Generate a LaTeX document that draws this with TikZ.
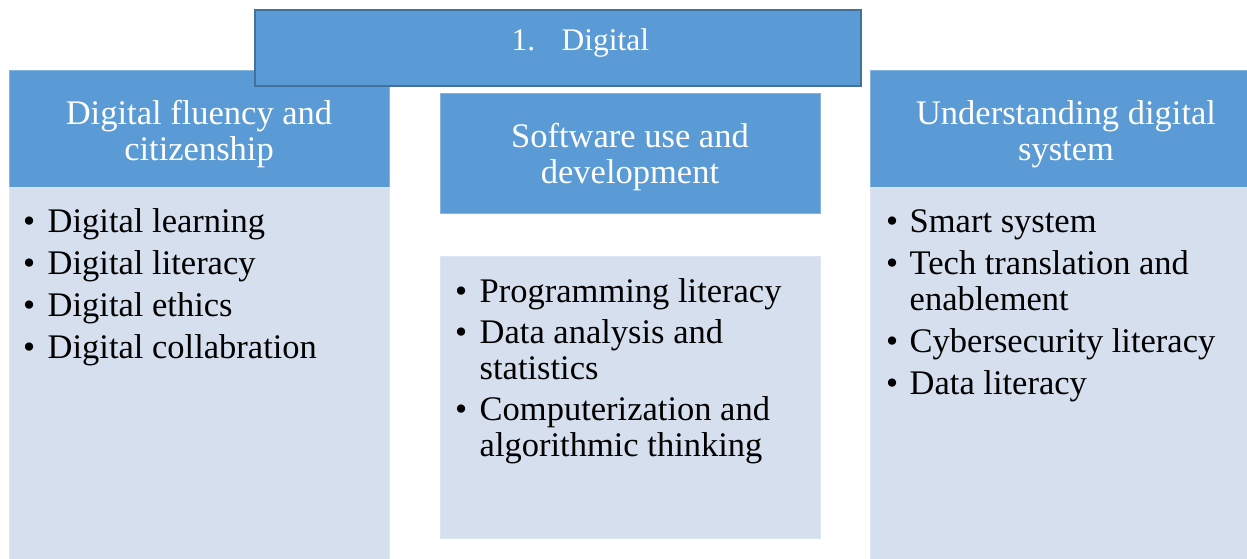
\documentclass[tikz,border=0pt]{standalone}
\usepackage{fontspec}
\setmainfont{Liberation Serif}
\definecolor{hdrblue}{HTML}{5B9BD5}
\definecolor{titleedge}{HTML}{41719C}
\definecolor{bodyfill}{HTML}{D5DFEE}
\definecolor{bodyedge}{HTML}{DCE5F2}
\begin{document}
\begin{tikzpicture}[x=1pt,y=-1pt,
  hdrbox/.style={fill=hdrblue, draw=hdrblue!75!white, line width=0.6pt, inner sep=0},
  bodybox/.style={fill=bodyfill, draw=bodyedge, line width=0.6pt, inner sep=0},
  titlebox/.style={fill=hdrblue, draw=titleedge, line width=1.8pt, inner sep=0},
  hdrtext/.style={anchor=base, inner sep=0, text=white, font=\fontsize{34.5}{36}\selectfont},
  titletext/.style={anchor=base west, inner sep=0, text=white, font=\fontsize{31.5}{33}\selectfont},
  itemtext/.style={anchor=base west, inner sep=0, text=black, font=\fontsize{34.5}{36}\selectfont},
  bul/.style={anchor=base west, inner sep=0, text=black, font=\fontsize{34.5}{36}\selectfont}
]
\useasboundingbox (0,0) rectangle (1247,558);
% column boxes
\node[hdrbox, minimum width=380pt, minimum height=117pt, anchor=north west] (lhead) at (9,70) {};
\node[bodybox, minimum width=380pt, minimum height=372pt, anchor=north west] (lbody) at (9,187) {};
\node[hdrbox, minimum width=380pt, minimum height=120pt, anchor=north west] (mhead) at (440,93) {};
\node[bodybox, minimum width=380pt, minimum height=282pt, anchor=north west] (mbody) at (440,256) {};
\node[hdrbox, minimum width=396pt, minimum height=117pt, anchor=north west] (rhead) at (870,70) {};
\node[bodybox, minimum width=396pt, minimum height=372pt, anchor=north west] (rbody) at (870,187) {};
% title
\node[titlebox, minimum width=606pt, minimum height=76pt, anchor=north west] (title) at (254,9) {};
\node[titletext] (tnum) at (511.5,50) {1.};
\node[titletext] (tword) at (561.5,50) {Digital};
% header texts
\node[hdrtext] (lh1) at (199,124) {Digital fluency and};
\node[hdrtext] (lh2) at (199,160) {citizenship};
\node[hdrtext] (mh1) at (630,147) {Software use and};
\node[hdrtext] (mh2) at (630,183) {development};
\node[hdrtext] (rh1) at (1066,124) {Understanding digital};
\node[hdrtext] (rh2) at (1066,160) {system};
% left bullets
\node[bul] (lb1) at (23,232) {•};
\node[itemtext] (li1) at (47.5,232) {Digital learning};
\node[bul] (lb2) at (23,274) {•};
\node[itemtext] (li2) at (47.5,274) {Digital literacy};
\node[bul] (lb3) at (23,316) {•};
\node[itemtext] (li3) at (47.5,316) {Digital ethics};
\node[bul] (lb4) at (23,358) {•};
\node[itemtext] (li4) at (47.5,358) {Digital collabration};
% middle bullets
\node[bul] (mb1) at (455,302) {•};
\node[itemtext] (mi1) at (479.5,302) {Programming literacy};
\node[bul] (mb2) at (455,343) {•};
\node[itemtext] (mi2) at (479.5,343) {Data analysis and};
\node[itemtext] (mi2b) at (479.5,379) {statistics};
\node[bul] (mb3) at (455,420) {•};
\node[itemtext] (mi3) at (479.5,420) {Computerization and};
\node[itemtext] (mi3b) at (479.5,456) {algorithmic thinking};
% right bullets
\node[bul] (rb1) at (886,232) {•};
\node[itemtext] (ri1) at (909.5,232) {Smart system};
\node[bul] (rb2) at (886,274) {•};
\node[itemtext] (ri2) at (909.5,274) {Tech translation and};
\node[itemtext] (ri2b) at (909.5,310) {enablement};
\node[bul] (rb3) at (886,352) {•};
\node[itemtext] (ri3) at (909.5,352) {Cybersecurity literacy};
\node[bul] (rb4) at (886,394) {•};
\node[itemtext] (ri4) at (909.5,394) {Data literacy};
\end{tikzpicture}
\end{document}
